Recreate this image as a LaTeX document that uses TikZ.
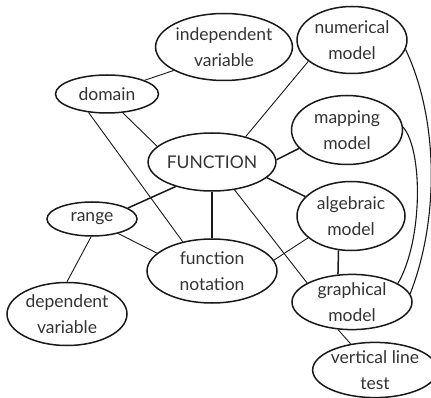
\documentclass[tikz,border=0pt]{standalone}
\usepackage{fontspec}
\setmainfont{Lato}
\usetikzlibrary{shapes.geometric}
\begin{document}
\begin{tikzpicture}[x=1pt,y=-1pt,
  concept/.style={draw=black!90,line width=1.5pt,ellipse,inner sep=0pt,align=center,
    font=\fontsize{17.5}{26}\selectfont,text=black!80},
  thin/.style={line width=0.9pt,draw=black!90},
  thick/.style={line width=1.5pt,draw=black!90},
  curve/.style={line width=1.1pt,draw=black!90}]
\useasboundingbox (0,0) rectangle (431,398);
\node[concept,minimum width=135pt,minimum height=67pt] (indep) at (224,47) {independent\\variable};
\node[concept,minimum width=110pt,minimum height=67pt] (num) at (352,40) {numerical\\model};
\node[concept,minimum width=103pt,minimum height=38pt] (dom) at (107,94) {domain};
\node[concept,minimum width=121pt,minimum height=58pt] (fun) at (212,162) {FUNCTION};
\node[concept,minimum width=111pt,minimum height=69pt] (map) at (347,130) {mapping\\model};
\node[concept,minimum width=108pt,minimum height=69pt] (alg) at (351,216) {algebraic\\model};
\node[concept,minimum width=90pt,minimum height=34pt] (ran) at (92,219) {range};
\node[concept,minimum width=130pt,minimum height=64pt] (fn) at (212,271) {function\\notation};
\node[concept,minimum width=120pt,minimum height=55pt] (gra) at (352,302) {graphical\\model};
\node[concept,minimum width=120pt,minimum height=63pt] (dep) at (67,314) {dependent\\variable};
\node[concept,minimum width=110pt,minimum height=54pt] (vlt) at (375,370) {vertical line\\test};

\draw[thin] (dom.20) -- (indep.205);
\draw[thin] (dom.-50) -- (fun.164);
\draw[thin] (dom.-135) -- (fn.135);
\draw[thin] (fun.37) -- (num.206);
\draw[thick] (fun.2) -- (map.201);
\draw[thick] (fun.-16) -- (alg.157);
\draw[thick] (fun.214) -- (ran.17);
\draw[thick] (fun.south) -- (fn.north);
\draw[thin] (fun.-51) -- (gra.157);
\draw[thin] (ran.-29) -- (fn.162);
\draw[thin] (ran.-93) -- (dep.90);
\draw[thin] (fn.10) -- (alg.207);
\draw[thick] (alg.-110) -- (gra.117);
\draw[thin] (gra.243) -- (vlt.133);
\draw[curve] (num.-10) .. controls (439,120) and (439,220) .. (gra.8);
\draw[curve] (map.3) .. controls (423,150) and (423,240) .. (gra.22);
\end{tikzpicture}
\end{document}
